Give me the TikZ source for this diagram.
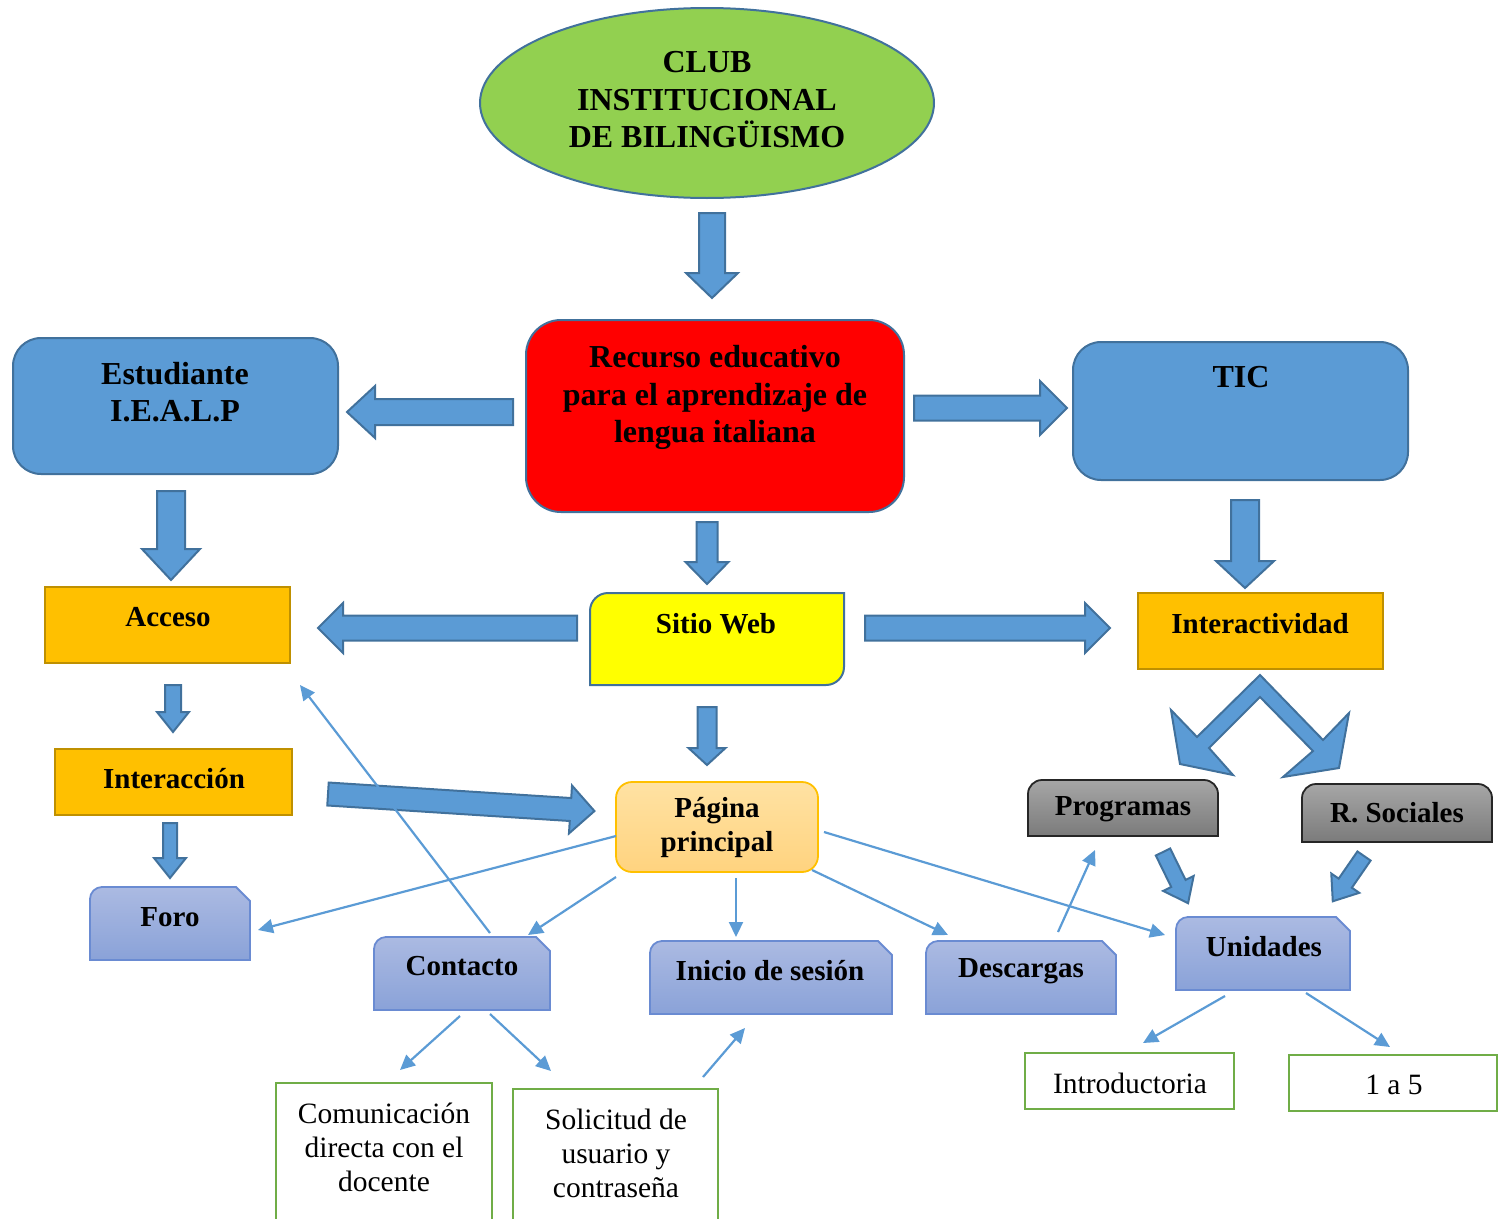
\documentclass[tikz,border=0pt]{standalone}
\usepackage{fontspec}
\setmainfont{Liberation Serif}
\usetikzlibrary{shapes.geometric,arrows.meta,calc}
\definecolor{arrfill}{HTML}{5B9BD5}
\definecolor{arrline}{HTML}{41719C}
\definecolor{ellfill}{HTML}{92D050}
\definecolor{gold}{HTML}{FFC000}
\definecolor{goldline}{HTML}{BF9000}
\definecolor{purtop}{HTML}{ABBAE2}
\definecolor{purbot}{HTML}{8AA2D8}
\definecolor{purline}{HTML}{6A8BD2}
\definecolor{graytop}{HTML}{A6A6A6}
\definecolor{graybot}{HTML}{7B7B7B}
\definecolor{grayline}{HTML}{262626}
\definecolor{pagtop}{HTML}{FFE2A3}
\definecolor{pagbot}{HTML}{FFD37F}
\definecolor{grn}{HTML}{70AD47}
\definecolor{yel}{HTML}{FFFF00}
\newcommand\blockarr[6]{%
 \begin{scope}[shift={#1},rotate=#2]
 \path[barr] (0,#4) -- ({#3-#6},#4) -- ({#3-#6},#5) -- (#3,0) -- ({#3-#6},-#5) -- ({#3-#6},-#4) -- (0,-#4) -- cycle;
 \end{scope}}
\newcommand\snipbox[1]{%
 \path[snipst] (#1.south west) -- ($(#1.north west)+(0,12)$) arc[start angle=180,end angle=90,radius=12pt] -- ($(#1.north east)+(-14,0)$) -- ($(#1.north east)+(0,14)$) -- (#1.south east) -- cycle;}
\newcommand\graybox[1]{%
 \path[grayst] (#1.south west) -- ($(#1.north west)+(0,14)$) arc[start angle=180,end angle=90,radius=14pt] -- ($(#1.north east)+(-14,0)$) arc[start angle=90,end angle=0,radius=14pt] -- (#1.south east) -- cycle;}
\tikzset{
 barr/.style={fill=arrfill,draw=arrline,line width=2pt,line join=miter},
 thinarr/.style={draw=arrfill,line width=2.2pt,-{Triangle[length=15pt,width=14pt]}},
 bt/.style={font=\fontsize{29}{34}\selectfont\bfseries,align=center,inner sep=0pt},
 bigt/.style={font=\fontsize{32}{37.5}\selectfont\bfseries,align=center,inner sep=0pt},
 rt/.style={font=\fontsize{29.5}{34}\selectfont,align=center,inner sep=0pt},
 box/.style={rectangle,inner sep=0pt,outer sep=0pt},
 bluebox/.style={box,fill=arrfill,draw=arrline,line width=2pt,rounded corners=28pt},
 goldbox/.style={box,fill=gold,draw=goldline,line width=2pt},
 greenbox/.style={box,fill=white,draw=grn,line width=2.5pt},
 snipst/.style={top color=purtop,bottom color=purbot,draw=purline,line width=1.8pt},
 grayst/.style={top color=graytop,bottom color=graybot,draw=grayline,line width=1.8pt},
}
\begin{document}
\begin{tikzpicture}[x=1pt,y=-1pt]
\useasboundingbox (0,0) rectangle (1499,1218);
% main nodes
\node[ellipse,fill=ellfill,draw=arrline,line width=2pt,minimum width=454pt,minimum height=190pt,inner sep=0pt] (ell) at (707,103) {};
\node[bigt] (tell) at (707,100) {CLUB\\INSTITUCIONAL\\DE BILINGÜISMO};
\node[box,fill=red,draw=arrline,line width=2pt,rounded corners=35pt,minimum width=378pt,minimum height=192pt] (rec) at (715,416) {};
\node[bigt] (trec) at (715,397.5) {Recurso educativo\\para el aprendizaje de\\lengua italiana};
\node[bluebox,minimum width=325pt,minimum height=136pt] (est) at (175.5,406) {};
\node[bigt] (test) at (175,392) {Estudiante\\I.E.A.L.P};
\node[bluebox,minimum width=335pt,minimum height=138pt] (tic) at (1240.5,411) {};
\node[bigt] (ttic) at (1241,377) {TIC};
\node[goldbox,minimum width=245pt,minimum height=76pt] (acc) at (167.5,625) {};
\node[bt] (tacc) at (168,617) {Acceso};
\node[box,minimum width=254pt,minimum height=92pt] (sit) at (717,639) {};
\path[fill=yel,draw=arrline,line width=2pt] (sit.south west) -- ($(sit.north west)+(0,18)$) arc[start angle=180,end angle=90,radius=18pt] -- (sit.north east) -- ($(sit.south east)+(0,-18)$) arc[start angle=0,end angle=-90,radius=18pt] -- cycle;
\node[bt] (tsit) at (716,624) {Sitio Web};
\node[goldbox,minimum width=245pt,minimum height=76pt] (itv) at (1260.5,631) {};
\node[bt] (titv) at (1260,624) {Interactividad};
\node[goldbox,minimum width=237pt,minimum height=66pt] (itc) at (173.5,782) {};
\node[bt] (titc) at (174,779) {Interacción};
\node[box,top color=pagtop,bottom color=pagbot,draw=gold,line width=1.8pt,rounded corners=16pt,minimum width=202pt,minimum height=90pt] (pag) at (717,827) {};
\node[bt] (tpag) at (717,828) {Página\\principal};
% snipped boxes
\node[box,minimum width=160pt,minimum height=73pt] (foro) at (170,923.5) {};
\snipbox{foro}
\node[bt] (tforo) at (170,917) {Foro};
\node[box,minimum width=176pt,minimum height=73pt] (cont) at (462,973.5) {};
\snipbox{cont}
\node[bt] (tcont) at (462,966) {Contacto};
\node[box,minimum width=242pt,minimum height=73pt] (ini) at (771,977.5) {};
\snipbox{ini}
\node[bt] (tini) at (770,971) {Inicio de sesión};
\node[box,minimum width=190pt,minimum height=73pt] (desc) at (1021,977.5) {};
\snipbox{desc}
\node[bt] (tdesc) at (1021,971) {Descargas};
\node[box,minimum width=174pt,minimum height=73pt] (unid) at (1263,953.5) {};
\snipbox{unid}
\node[bt] (tunid) at (1264,947) {Unidades};
% gray boxes
\node[box,minimum width=190pt,minimum height=56pt] (prog) at (1123,808) {};
\graybox{prog}
\node[bt] (tprog) at (1123,809) {Programas};
\node[box,minimum width=190pt,minimum height=58pt] (rsoc) at (1397,813) {};
\graybox{rsoc}
\node[bt] (trsoc) at (1397,813) {R. Sociales};
% green boxes
\node[greenbox,minimum width=216pt,minimum height=140pt] (com) at (384,1153) {};
\node[rt] (tcom) at (384,1147) {Comunicación\\directa con el\\docente};
\node[greenbox,minimum width=205pt,minimum height=134pt] (sol) at (615.5,1156) {};
\node[rt] (tsol) at (616,1153) {Solicitud de\\usuario y\\contraseña};
\node[greenbox,minimum width=209pt,minimum height=56pt] (intro) at (1129.5,1081) {};
\node[rt] (tintro) at (1130,1083) {Introductoria};
\node[greenbox,minimum width=208pt,minimum height=56pt] (uno) at (1393,1083) {};
\node[rt] (tuno) at (1394,1085) {1 a 5};
% block arrows
\blockarr{(712,213)}{-90}{85}{13}{26}{25}
\blockarr{(513,412)}{180}{166}{13}{26}{28}
\blockarr{(914,408)}{0}{153}{12.5}{27}{27}
\blockarr{(707,522)}{-90}{62}{10.5}{21.5}{22}
\blockarr{(171,491)}{-90}{89}{14}{29}{31}
\blockarr{(1245,500)}{-90}{88}{14}{29}{27}
\blockarr{(577,628)}{180}{259}{12.5}{25}{25}
\blockarr{(865,628)}{0}{245}{12.5}{25}{25}
\blockarr{(173,685)}{-90}{47}{8}{16}{20}
\blockarr{(170,823)}{-90}{55}{7}{16}{20}
\blockarr{(328,794)}{-3.66}{267}{11.5}{24}{24}
\blockarr{(707,707)}{-90}{58}{9.5}{18.5}{17}
\blockarr{(1163,852)}{-63.9}{57}{8}{17}{22}
\blockarr{(1364,856)}{-124.6}{55}{8}{17}{22}
% double chevron arrow
\path[barr] (1260,675) -- (1197,737) -- (1171,710) -- (1180,764) -- (1233,775) -- (1209,748) -- (1260,697) -- (1313,751) -- (1283,777) -- (1339,768) -- (1349,713) -- (1323,740) -- cycle;
% thin connectors
\draw[thinarr] ($(pag.west)+(0,9)$) -- ($(foro.east)+(8,6.5)$);
\draw[thinarr] ($(pag.south west)+(0,5)$) -- ($(cont.north east)+(-22,-2)$);
\draw[thinarr] ($(pag.south)+(19,6)$) -- ($(ini.north)+(-35,-4)$);
\draw[thinarr] ($(pag.south east)+(-6,-2)$) -- ($(desc.north west)+(22,-6)$);
\draw[thinarr] ($(pag.east)+(6,5)$) -- ($(unid.west)+(-11,-18.5)$);
\draw[thinarr] ($(cont.north)+(28,-4)$) -- ($(acc.south east)+(10,22)$);
\draw[thinarr] ($(cont.south)+(-2,6)$) -- ($(com.north)+(16,-13)$);
\draw[thinarr] ($(cont.south)+(28,4)$) -- ($(sol.north west)+(38,-18)$);
\draw[thinarr] ($(sol.north east)+(-15,-12)$) -- ($(ini.south)+(-26,14)$);
\draw[thinarr] ($(desc.north)+(37,-9)$) -- ($(prog.south)+(-28,14)$);
\draw[thinarr] ($(unid.south)+(-38,6)$) -- ($(intro.north)+(13.5,-10)$);
\draw[thinarr] ($(unid.south)+(43,3)$) -- ($(uno.north)+(-3,-8)$);
\end{tikzpicture}
\end{document}
